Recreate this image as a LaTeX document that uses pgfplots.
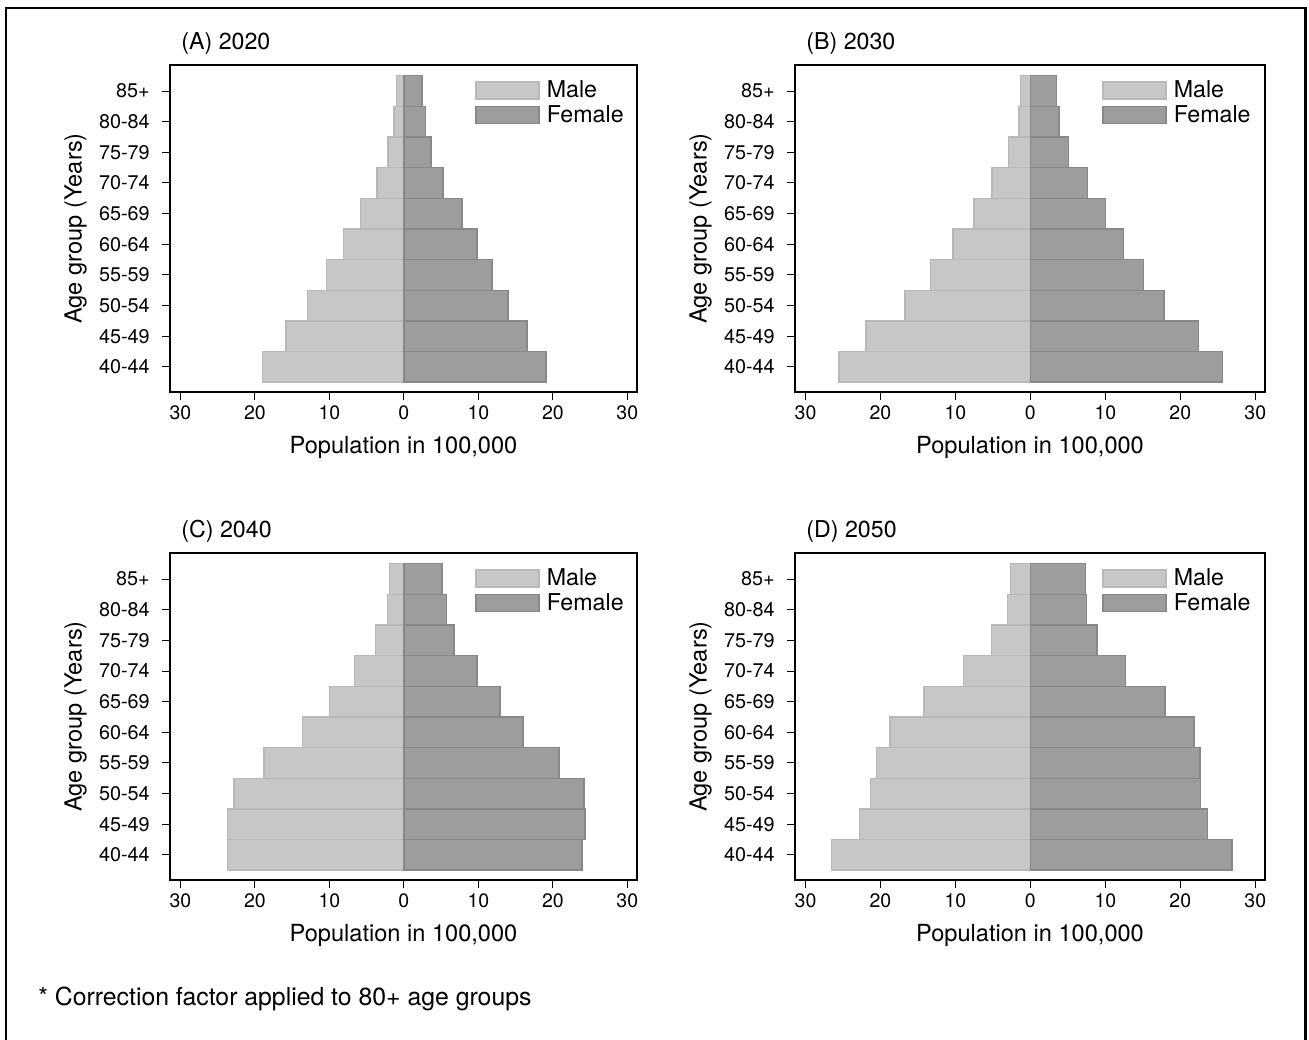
\documentclass[border=0pt]{standalone}
\usepackage{fontspec}
\setmainfont{TeX Gyre Heros}
\usepackage{pgfplots}
\pgfplotsset{compat=1.18}
\definecolor{mfill}{RGB}{199,199,199}
\definecolor{mdraw}{RGB}{184,184,184}
\definecolor{ffill}{RGB}{156,157,156}
\definecolor{fdraw}{RGB}{136,136,136}
\pgfplotsset{
  swatch legend/.style={legend image code/.code={\draw[##1] (0pt,-4.25pt) rectangle (31.5pt,4.25pt);}},
  pyr/.style={
    scale only axis, width=234pt, height=163.5pt,
    xbar, bar width=1, bar shift=0pt,
    xmin=-31.4, xmax=31.3, ymin=-0.82, ymax=9.85,
    xtick={-30,-20,-10,0,10,20,30}, xticklabels={30,20,10,0,10,20,30},
    ytick={0,...,9},
    yticklabels={40-44,45-49,50-54,55-59,60-64,65-69,70-74,75-79,80-84,85+},
    tick align=outside, major tick length=4pt,
    xtick pos=lower, ytick pos=left,
    tick style={black, line width=0.5pt},
    axis line style={line width=0.6pt},
    /pgf/number format/assume math mode=true,
    xticklabel style={font=\fontsize{9.75}{11}\selectfont, yshift=0.75pt},
    yticklabel style={font=\fontsize{9.9}{11}\selectfont, xshift=-2.6pt},
    label style={font=\fontsize{11.8}{13}\selectfont},
    xlabel={Population in 100,000},
    ylabel={Age group (Years)},
    xlabel style={at={([yshift=-30.75pt]rel axis cs:0.5,0)}, anchor=base},
    ylabel style={at={([xshift=-44.25pt]rel axis cs:0,0.5)}, anchor=base},
    every axis title shift=0pt,
    title style={at={([xshift=5.5pt,yshift=7.85pt]rel axis cs:0,1)}, anchor=base west, inner sep=0pt, font=\fontsize{11.6}{13}\selectfont},
    legend style={at={(0.653,0.951)}, anchor=north west, draw=none, fill=none, inner sep=0pt,
      column sep=3.5pt, row sep=3pt, font=\fontsize{11.6}{13}\selectfont,
      nodes={inner sep=0pt, text height=8.25pt, text depth=1pt}},
    legend cell align=left,
  },
  mstyle/.style={xbar, bar shift=0pt, fill=mfill, draw=mdraw, line width=0.75pt, swatch legend},
  fstyle/.style={xbar, bar shift=0pt, fill=ffill, draw=fdraw, line width=0.75pt, swatch legend},
}
\begin{document}
\begin{tikzpicture}
\useasboundingbox (0,0) rectangle (654.5pt,-519.5pt);
\draw[line width=1.3pt] (3pt,-560pt) -- (3pt,-3.9pt) -- (652.7pt,-3.9pt) -- (652.7pt,-560pt);

% (A) 2020
\begin{axis}[pyr, width=233.5pt, at={(85pt,-32.5pt)}, anchor=north west, title={(A) 2020}]
\addplot[mstyle] coordinates {(-19.0,0) (-15.8,1) (-12.95,2) (-10.4,3) (-8.1,4) (-5.85,5) (-3.6,6) (-2.1,7) (-1.3,8) (-1.0,9)};
\addplot[fstyle] coordinates {(19.1,0) (16.5,1) (14.0,2) (11.8,3) (9.8,4) (7.8,5) (5.27,6) (3.66,7) (2.9,8) (2.45,9)};
\legend{Male,Female}
\end{axis}

% (B) 2030
\begin{axis}[pyr, width=235pt, at={(397.5pt,-32.5pt)}, anchor=north west, title={(B) 2030}]
\addplot[mstyle] coordinates {(-25.5,0) (-21.9,1) (-16.7,2) (-13.3,3) (-10.3,4) (-7.5,5) (-5.1,6) (-2.9,7) (-1.5,8) (-1.34,9)};
\addplot[fstyle] coordinates {(25.65,0) (22.45,1) (17.8,2) (15.1,3) (12.4,4) (10.0,5) (7.6,6) (5.1,7) (3.8,8) (3.5,9)};
\legend{Male,Female}
\end{axis}

% (C) 2040
\begin{axis}[pyr, width=233.5pt, at={(85pt,-276.5pt)}, anchor=north west, title={(C) 2040}]
\addplot[mstyle] coordinates {(-23.7,0) (-23.7,1) (-22.8,2) (-18.8,3) (-13.6,4) (-10.0,5) (-6.65,6) (-3.8,7) (-2.2,8) (-1.96,9)};
\addplot[fstyle] coordinates {(23.9,0) (24.3,1) (24.15,2) (20.8,3) (16.0,4) (12.9,5) (9.8,6) (6.7,7) (5.7,8) (5.1,9)};
\legend{Male,Female}
\end{axis}

% (D) 2050
\begin{axis}[pyr, width=235pt, at={(397.5pt,-276.5pt)}, anchor=north west, title={(D) 2050}]
\addplot[mstyle] coordinates {(-26.5,0) (-22.8,1) (-21.3,2) (-20.5,3) (-18.7,4) (-14.2,5) (-8.9,6) (-5.2,7) (-3.07,8) (-2.67,9)};
\addplot[fstyle] coordinates {(26.9,0) (23.6,1) (22.7,2) (22.6,3) (21.8,4) (17.95,5) (12.7,6) (8.86,7) (7.5,8) (7.35,9)};
\legend{Male,Female}
\end{axis}

\node[anchor=base west, inner sep=0pt, font=\fontsize{12.4}{14}\selectfont] at (19pt,-502.5pt) {* Correction factor applied to 80+ age groups};
\end{tikzpicture}
\end{document}
